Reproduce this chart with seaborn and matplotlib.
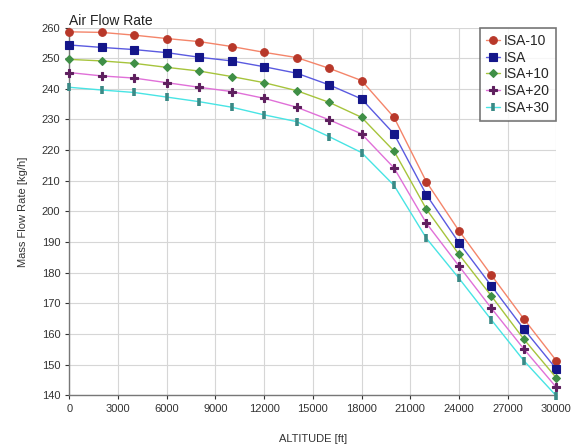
import pandas as pd
import matplotlib
matplotlib.use('Agg')
import matplotlib.pyplot as plt
import seaborn as sns

# altitude in ft and mass flow in kg/h
altitude = [0, 2000, 4000, 6000, 8000, 10000, 12000, 14000, 16000, 18000,
            20000, 22000, 24000, 26000, 28000, 30000]
isa_m10 = [258.6, 258.4, 257.5, 256.4, 255.4, 253.8, 251.9, 250.2, 246.7, 242.7,
           230.7, 209.6, 193.7, 179.2, 164.9, 151.3]
isa = [254.3, 253.5, 252.8, 251.8, 250.3, 249.1, 247.2, 245.1, 241.3, 236.7,
       225.3, 205.4, 189.8, 175.7, 161.6, 148.6]
isa_p10 = [249.6, 249.1, 248.3, 247.0, 245.8, 244.0, 242.0, 239.4, 235.6, 230.7,
           219.7, 200.7, 186.0, 172.4, 158.3, 145.7]
isa_p20 = [245.3, 244.2, 243.5, 242.0, 240.5, 239.1, 236.9, 234.0, 229.9, 225.3,
           214.2, 196.1, 182.2, 168.4, 155.1, 142.6]
isa_p30 = [240.5, 239.6, 238.8, 237.3, 235.8, 234.0, 231.5, 229.3, 224.4, 219.2,
           208.5, 191.2, 178.2, 164.6, 151.3, 139.8]

names = ['ISA-10', 'ISA', 'ISA+10', 'ISA+20', 'ISA+30']
series = [isa_m10, isa, isa_p10, isa_p20, isa_p30]
line_colors = ['#f4856a', '#5a5ae0', '#a6c43c', '#e070d8', '#48e4e4']
marker_colors = ['#b8382a', '#14168a', '#3f8f46', '#5e1f5e', '#3a8a86']
markers = ['o', 's', 'D', 'P', '|']
msizes = [5.5, 5.5, 4.2, 5.5, 5.5]

sns.set_style('whitegrid')
plt.rcParams['font.family'] = ['Liberation Sans', 'DejaVu Sans']

fig = plt.figure(figsize=(5.78, 4.48), dpi=100)
ax = fig.add_axes([0.12, 0.1176, 0.8425, 0.821])

for name, vals, lc, mc, mk, ms in zip(names, series, line_colors, marker_colors, markers, msizes):
    df = pd.DataFrame({'alt': altitude, 'flow': vals})
    sns.lineplot(data=df, x='alt', y='flow', ax=ax, color=lc, linewidth=1.0,
                 marker=mk, markersize=ms, markerfacecolor=mc, markeredgecolor=mc,
                 markeredgewidth=2.6 if mk == '|' else 0.8, label=name,
                 clip_on=False, zorder=3)

ax.set_xlim(0, 30000)
ax.set_ylim(140, 260)
ax.set_xticks(range(0, 30001, 3000))
ax.set_yticks(range(140, 261, 10))
ax.tick_params(labelsize=8, colors='#333333', length=3, left=True, bottom=True)
ax.grid(True, color='#d6d6d6', linewidth=0.8)
for s in ['top', 'right']:
    ax.spines[s].set_visible(False)
for s in ['left', 'bottom']:
    ax.spines[s].set_color('#777777')
    ax.spines[s].set_linewidth(1.0)

ax.set_xlabel('ALTITUDE [ft]', fontsize=8, color='#333333', labelpad=14)
ax.set_ylabel('Mass Flow Rate [kg/h]', fontsize=8, color='#333333', labelpad=10)
ax.set_title('Air Flow Rate', fontsize=10, loc='left', pad=2, color='#222222')

leg = ax.legend(loc='upper right', fontsize=10, frameon=True, fancybox=False,
                borderaxespad=0, handlelength=1.0, handletextpad=0.3,
                labelspacing=0.2, borderpad=0.45)
leg.get_frame().set_edgecolor('#555555')
leg.get_frame().set_linewidth(1.2)
leg.set_zorder(5)

fig.savefig('out.png', dpi=100)
